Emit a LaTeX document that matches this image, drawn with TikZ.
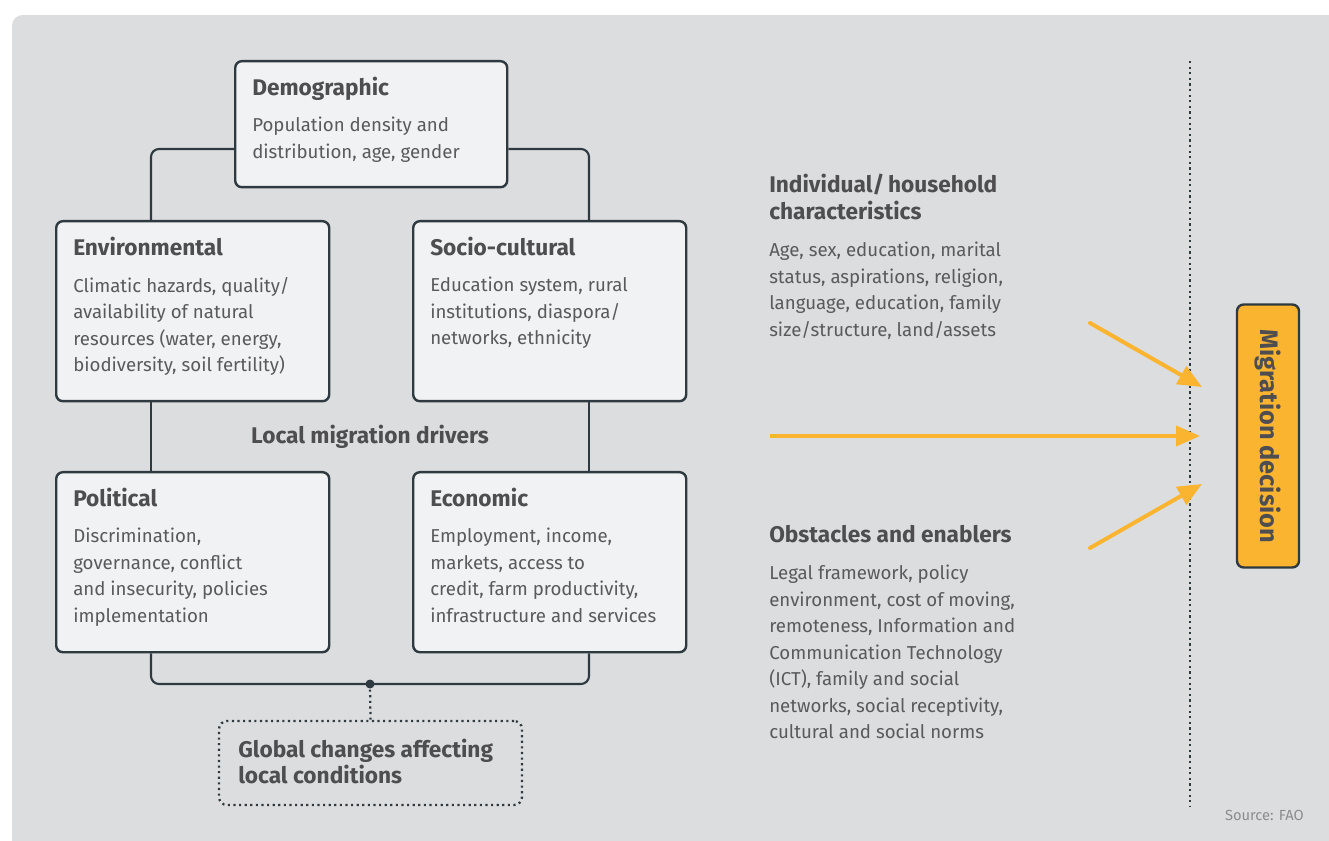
\documentclass[tikz,border=0pt]{standalone}
\usepackage{fontspec}
\setmainfont{Fira Sans}
\usetikzlibrary{arrows.meta,calc}
\definecolor{bg}{HTML}{DCDDDF}
\definecolor{boxfill}{HTML}{F1F2F4}
\definecolor{edge}{HTML}{2E3A40}
\definecolor{bodytxt}{HTML}{5A5A5C}
\definecolor{headtxt}{HTML}{4E4E50}
\definecolor{orangefill}{HTML}{FBB42F}
\definecolor{srctxt}{HTML}{8C8C8C}
\begin{document}
\begin{tikzpicture}[x=0.75pt,y=-0.75pt,
  drvbox/.style={draw=edge, fill=boxfill, line width=1.8pt, rounded corners=5pt, inner sep=0pt, anchor=north west},
  conn/.style={draw=edge, line width=1.6pt, rounded corners=6pt},
  dotline/.style={draw=edge, line width=1.7pt, dash pattern=on 1.6pt off 2.6pt},
  headtext/.style={anchor=base west, inner sep=0pt, text=headtxt, font=\fontsize{17}{20.25}\selectfont\bfseries},
  bodytext/.style={anchor=north west, yshift=11.4pt, inner sep=0pt, text=bodytxt, align=left,
     font=\fontsize{14}{19.9}\selectfont, execute at begin node={\rule{0pt}{14pt}}},
  orarrow/.style={draw=orangefill, line width=3pt, -{Triangle[length=18pt,width=15pt]}}
]
\useasboundingbox (0,0) rectangle (1329,841);
\fill[bg, rounded corners=8pt] (12,15) rectangle (1360,870);

% driver boxes
\node[drvbox, minimum width=204pt, minimum height=94.5pt] (dem) at (234,60) {};
\node[drvbox, minimum width=204.75pt, minimum height=135pt] (env) at (55,220) {};
\node[drvbox, minimum width=204.75pt, minimum height=135pt] (soc) at (412,220) {};
\node[drvbox, minimum width=204.75pt, minimum height=135pt] (pol) at (55,471) {};
\node[drvbox, minimum width=204.75pt, minimum height=135pt] (eco) at (412,471) {};

% connectors
\draw[conn] (dem.west |- 0,149) -- (151,149) -- (env.north -| 151,0);
\draw[conn] (dem.east |- 0,149) -- (589,149) -- (soc.north -| 589,0);
\draw[conn] (env.south -| 151,0) -- (pol.north -| 151,0);
\draw[conn] (soc.south -| 589,0) -- (eco.north -| 589,0);
\coordinate (hub) at (370,684);
\draw[conn] (pol.south -| 151,0) -- (151,684) -- (589,684) -- (eco.south -| 589,0);

% global box
\node[draw=edge, line width=1.7pt, dash pattern=on 1.6pt off 2.6pt, rounded corners=6pt,
      minimum width=227.25pt, minimum height=63pt, inner sep=0pt] (glob) at (370.5,763) {};
\node[headtext] (globt) at (238,757) {Global changes affecting};
\node[headtext] (globt2) at (238,783) {local conditions};
\draw[dotline] (hub) -- (glob.north);
\fill[edge] (hub) circle (4.5);

% box texts
\node[headtext] (demh) at (252,96) {Demographic};
\node[bodytext] (demb) at (252,132) {Population density and\\distribution, age, gender};

\node[headtext] (envh) at (73,256) {Environmental};
\node[bodytext] (envb) at (73,292) {Climatic hazards, quality/\\availability of natural\\resources (water, energy,\\biodiversity, soil fertility)};

\node[headtext] (soch) at (430,256) {Socio-cultural};
\node[bodytext] (socb) at (430,292) {Education system, rural\\institutions, diaspora/\\networks, ethnicity};

\node[headtext] (polh) at (73,507) {Political};
\node[bodytext] (polb) at (73,543) {Discrimination,\\governance, conflict\\and insecurity, policies\\implementation};

\node[headtext] (ecoh) at (430,507) {Economic};
\node[bodytext] (ecob) at (430,543) {Employment, income,\\markets, access to\\credit, farm productivity,\\infrastructure and services};

\node[headtext, anchor=base] (local) at (370,444) {Local migration drivers};

% right side texts
\node[headtext] (indh) at (769,193) {Individual/\,household};
\node[headtext] (indh2) at (769,220) {characteristics};
\node[bodytext] (indb) at (769,257) {Age, sex, education, marital\\status, aspirations, religion,\\language, education, family\\size/structure, land/assets};

\node[headtext] (obsh) at (769,542) {Obstacles and enablers};
\node[bodytext] (obsb) at (769,580) {Legal framework, policy\\environment, cost of moving,\\remoteness, Information and\\Communication Technology\\(ICT), family and social\\networks, social receptivity,\\cultural and social norms};

% dotted separator
\coordinate (sepTop) at (1190,61);
\coordinate (sepBot) at (1190,806);
\draw[dotline] (sepTop) -- (sepBot);

% migration decision
\node[draw=edge, fill=orangefill, line width=1.8pt, rounded corners=5pt, rotate=-90,
      minimum width=197.25pt, minimum height=46.5pt, inner sep=0pt,
      text=headtxt, font=\fontsize{19}{22}\selectfont\bfseries] (mig) at (1268,436) {Migration decision};

% arrows
\coordinate (a1s) at (1090,323);
\coordinate (a1e) at (1202,387);
\coordinate (a2s) at (770,436);
\coordinate (a2e) at (1200,436);
\coordinate (a3s) at (1090,548);
\coordinate (a3e) at (1202,484);
\draw[orarrow, line cap=round] (a1s) -- (a1e);
\draw[orarrow] (a2s) -- (a2e);
\draw[orarrow, line cap=round] (a3s) -- (a3e);

\node[anchor=base east, inner sep=0pt, text=srctxt, font=\fontsize{11}{12}\selectfont] (src) at (1304,820) {Source: FAO};
\end{tikzpicture}
\end{document}
